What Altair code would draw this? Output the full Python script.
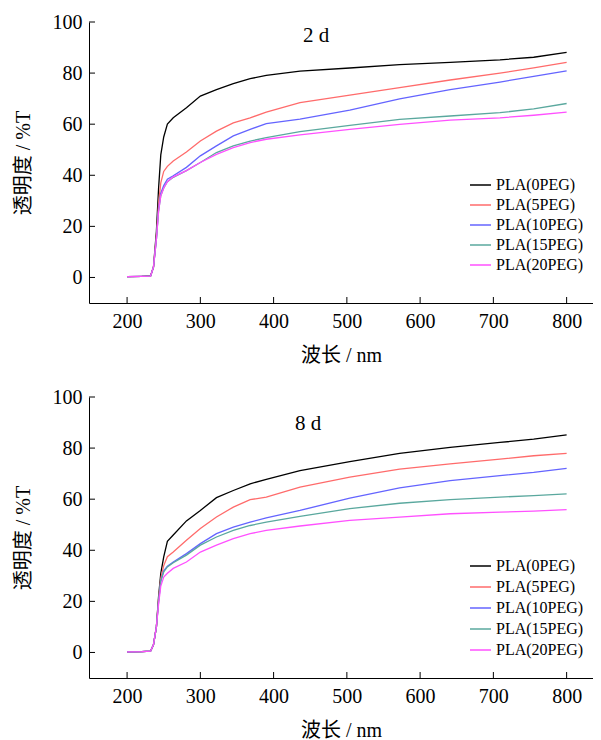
import altair as alt
import pandas as pd

# wavelength grid (nm) shared by all series
wavelength = [200, 220, 232, 236, 240, 243, 246, 250, 255, 263, 281, 300,
              322, 345, 368, 390, 436, 504, 572, 641, 709, 755, 800]

series_names = ["PLA(0PEG)", "PLA(5PEG)", "PLA(10PEG)", "PLA(15PEG)", "PLA(20PEG)"]
series_colors = ["#000000", "#ff6b6b", "#6464ff", "#5aa89e", "#ff50ff"]

# 2 d transmittance (%T)
d2_peg0 = [0.3, 0.4, 0.6, 4, 18, 35, 48, 55, 60, 62.5, 66.4, 71, 73.5, 75.9, 77.8, 79.1, 80.8, 82.0, 83.3, 84.2, 85.2, 86.2, 88.1]
d2_peg5 = [0.3, 0.4, 0.5, 4, 16, 29, 37, 41.5, 43.5, 45.6, 49.1, 53.4, 57.3, 60.5, 62.5, 64.7, 68.4, 71.4, 74.3, 77.3, 80.0, 82.0, 84.2]
d2_peg10 = [0.3, 0.4, 0.5, 4, 15, 27, 33, 36, 38.5, 39.8, 43.1, 47.6, 51.5, 55.4, 58, 60.2, 62, 65.5, 69.9, 73.5, 76.5, 78.7, 80.9]
d2_peg15 = [0.3, 0.4, 0.5, 4, 15, 26, 32, 35, 37.5, 39.2, 41.8, 45, 48.9, 51.5, 53.4, 54.7, 57.1, 59.5, 61.9, 63.2, 64.5, 66, 68.1]
d2_peg20 = [0.3, 0.4, 0.5, 4, 15, 26, 32, 35, 37.5, 39.4, 41.8, 45, 48.2, 50.8, 52.8, 54.1, 55.8, 58, 59.9, 61.6, 62.5, 63.5, 64.7]

# 8 d transmittance (%T)
d8_peg0 = [0.2, 0.3, 0.5, 3, 10, 22, 31, 37.4, 43.5, 46, 51.5, 55.6, 60.6, 63.4, 66, 67.8, 71.2, 74.7, 77.9, 80.3, 82.2, 83.5, 85.2]
d8_peg5 = [0.2, 0.3, 0.5, 3, 10, 21, 29, 34, 37.5, 39.3, 43.9, 48.5, 53, 56.9, 59.8, 60.8, 64.7, 68.6, 71.8, 73.8, 75.7, 77.0, 77.9]
d8_peg10 = [0.2, 0.3, 0.5, 3, 10, 20, 28, 32, 33.8, 35.4, 38.7, 42.6, 46.5, 49.1, 51, 52.7, 55.6, 60.4, 64.4, 67.3, 69.2, 70.5, 72.1]
d8_peg15 = [0.2, 0.3, 0.5, 3, 10, 20, 28, 31.5, 33.5, 35.1, 38.1, 42, 45.2, 47.8, 49.7, 51, 53.3, 56.3, 58.4, 59.8, 60.8, 61.4, 62.1]
d8_peg20 = [0.2, 0.3, 0.5, 3, 10, 19, 26, 29.5, 31, 32.9, 35.4, 39.3, 42, 44.6, 46.5, 47.8, 49.5, 51.7, 53, 54.3, 54.9, 55.3, 55.9]

x_ticks = [200, 300, 400, 500, 600, 700, 800]
y_ticks = [0, 20, 40, 60, 80, 100]

FONT = "Liberation Serif, Times New Roman, Noto Sans CJK SC"
W, H = 504, 281
XDOM = [148, 836]
YDOM = [-10, 100]


def make_df(values_list):
    rows = []
    for name, vals in zip(series_names, values_list):
        for w, v in zip(wavelength, vals):
            rows.append({"wl": w, "T": v, "series": name})
    return pd.DataFrame(rows)


df2 = make_df([d2_peg0, d2_peg5, d2_peg10, d2_peg15, d2_peg20])
df8 = make_df([d8_peg0, d8_peg5, d8_peg10, d8_peg15, d8_peg20])
xt_df = pd.DataFrame({"wl": x_ticks})
yt_df = pd.DataFrame({"T": y_ticks})


def panel(df, label, title_dx, title_offset, legend_y, row_pad):
    xscale = alt.Scale(domain=XDOM, nice=False, zero=False)
    yscale = alt.Scale(domain=YDOM, nice=False)
    xaxis = alt.Axis(values=x_ticks, title="波长 / nm", grid=False,
                     ticks=False, labelPadding=8, titlePadding=14)
    yaxis = alt.Axis(values=y_ticks, title="透明度 / %T", grid=False,
                     ticks=False, labelPadding=7, titlePadding=19)
    lines = alt.Chart(df).mark_line(strokeWidth=1.3).encode(
        x=alt.X("wl:Q", scale=xscale, axis=xaxis),
        y=alt.Y("T:Q", scale=yscale, axis=yaxis),
        color=alt.Color("series:N",
                        scale=alt.Scale(domain=series_names, range=series_colors),
                        sort=series_names,
                        legend=alt.Legend(title=None, orient="none", legendX=380,
                                          legendY=legend_y, symbolType="stroke",
                                          symbolSize=441, symbolStrokeWidth=1.5,
                                          labelFontSize=16, labelFont=FONT,
                                          labelColor="black", rowPadding=row_pad,
                                          padding=0, labelOffset=4)),
        detail="series:N",
    )
    xticks = alt.Chart(xt_df).mark_rule(color="black", strokeWidth=1).encode(
        x=alt.X("wl:Q", scale=xscale, axis=xaxis),
        y=alt.value(H),
        y2=alt.value(H - 6),
    )
    yticks = alt.Chart(yt_df).mark_rule(color="black", strokeWidth=1).encode(
        y=alt.Y("T:Q", scale=yscale, axis=yaxis),
        x=alt.value(0),
        x2=alt.value(6),
    )
    return alt.layer(lines, xticks, yticks, title=alt.Title(
        label, anchor="start", frame="group", dx=title_dx, offset=title_offset,
        fontSize=21, font=FONT, fontWeight="normal", color="black",
    )).properties(width=W, height=H)


top = panel(df2, "2 d", 214, -33.5, 151.5, 0)
bottom = panel(df8, "8 d", 206, -47, 157.5, 1)

chart = alt.vconcat(top, bottom, spacing=22).resolve_legend(color="independent").configure_view(
    stroke=None
).configure_axis(
    labelFont=FONT, titleFont=FONT, labelFontSize=20, titleFontSize=20,
    labelColor="black", titleColor="black", titleFontWeight="normal",
    domainColor="black", tickColor="black", domainWidth=1, tickWidth=1,
).properties(padding={"top": 4, "left": 5, "right": 0, "bottom": 0})

chart.save("out.html", embed_options={"renderer": "svg", "actions": False})
